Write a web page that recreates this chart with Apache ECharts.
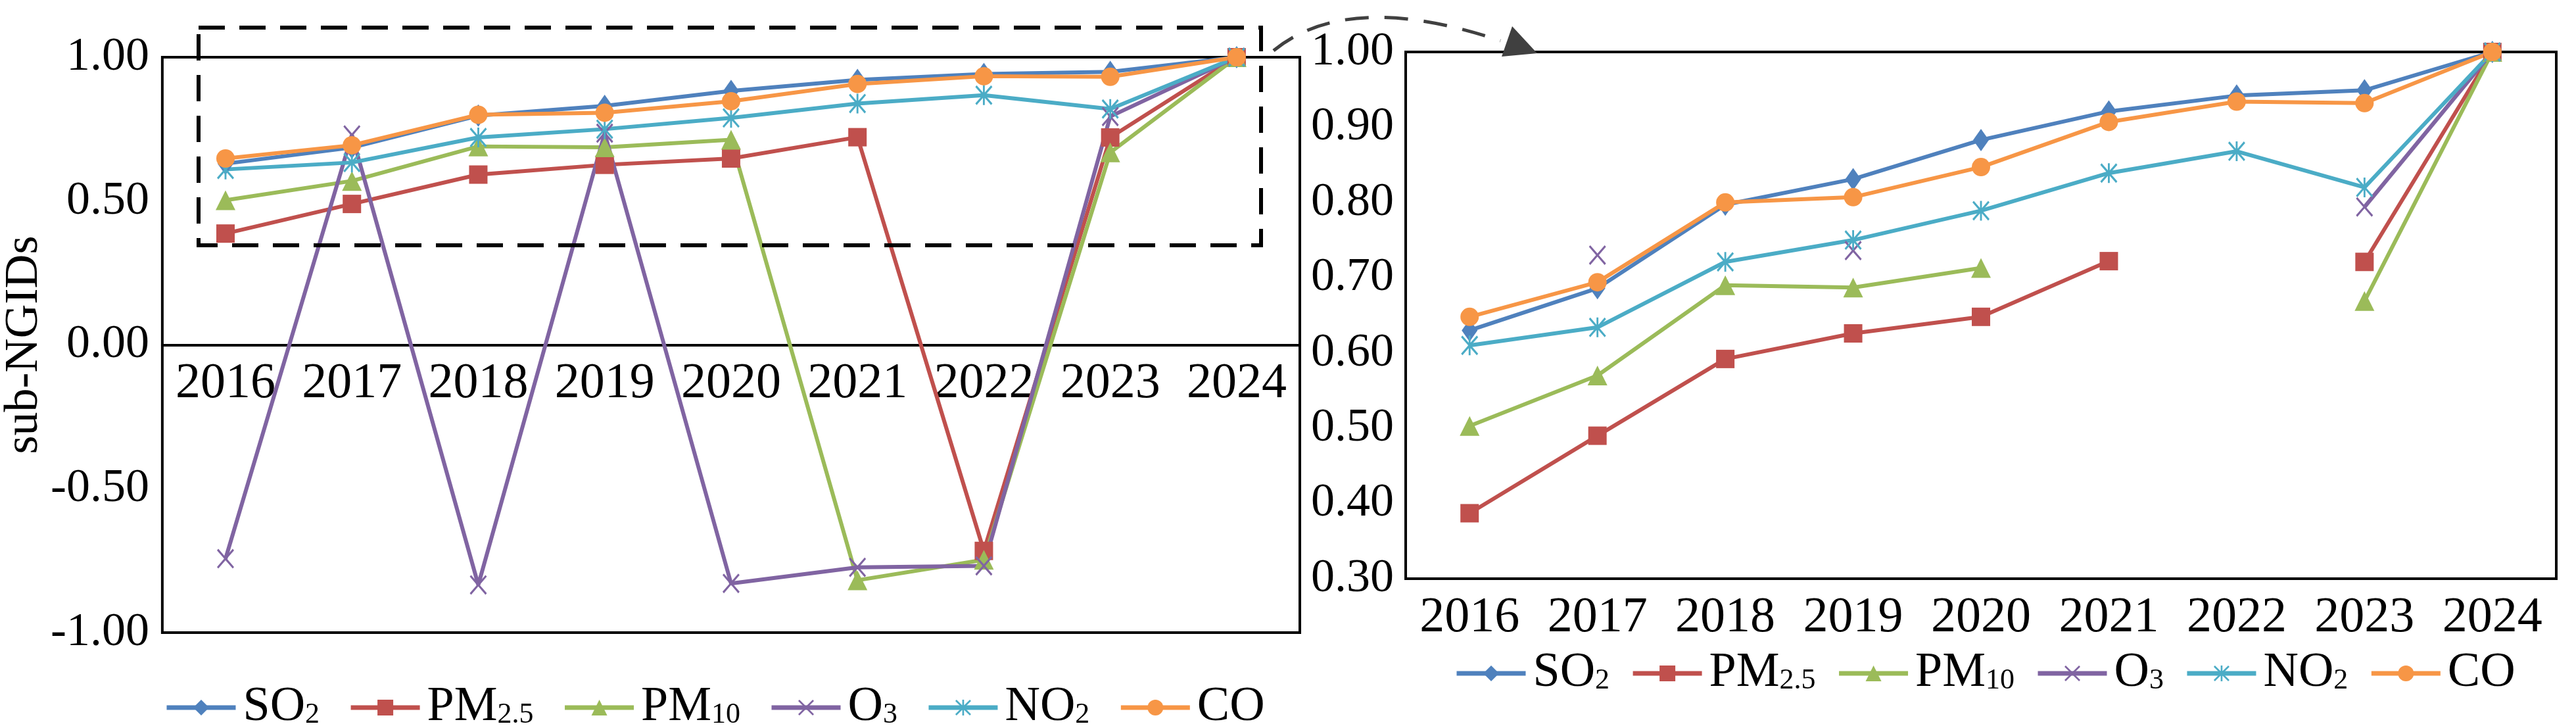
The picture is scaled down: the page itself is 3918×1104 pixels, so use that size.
<!DOCTYPE html>
<html>
<head>
<meta charset="utf-8">
<script src="https://cdn.jsdelivr.net/npm/echarts@6/dist/echarts.min.js"></script>
<style>
html, body { margin: 0; padding: 0; background: #fff; }
#chart { width: 3918px; height: 1104px; }
</style>
</head>
<body>
<div id="chart"></div>
<script>
// data
var years = ['2016', '2017', '2018', '2019', '2020', '2021', '2022', '2023', '2024'];
var so2  = [0.630, 0.686, 0.797, 0.831, 0.883, 0.921, 0.942, 0.949, 1.000];
var pm25 = [0.387, 0.490, 0.592, 0.626, 0.648, 0.722, -0.716, 0.721, 1.000];
var pm10 = [0.503, 0.570, 0.690, 0.687, 0.713, -0.818, -0.747, 0.669, 1.000];
var o3   = [-0.743, 0.730, -0.834, 0.736, -0.829, -0.773, -0.768, 0.794, 1.000];
var no2  = [0.610, 0.634, 0.721, 0.750, 0.789, 0.839, 0.868, 0.820, 1.000];
var co   = [0.648, 0.694, 0.800, 0.807, 0.847, 0.907, 0.934, 0.932, 1.000];

var leftTicks  = [-1.0, -0.5, 0.0, 0.5, 1.0];
var rightTicks = [0.3, 0.4, 0.5, 0.6, 0.7, 0.8, 0.9, 1.0];

var FONT = "'Liberation Serif', 'Times New Roman', serif";

var X_PATH = 'path://M0,0.8L0.8,0L5,4.2L9.2,0L10,0.8L5.8,5L10,9.2L9.2,10L5,5.8L0.8,10L0,9.2L4.2,5Z';
var STAR_PATH = X_PATH + 'M4.45,0L5.55,0L5.55,10L4.45,10Z';

var seriesDefs = [
    { name: 'SO2',   data: so2,  color: '#4f81bd', symbol: 'diamond',  size: [24, 34] },
    { name: 'PM2.5', data: pm25, color: '#c0504d', symbol: 'rect',     size: 28 },
    { name: 'PM10',  data: pm10, color: '#9bbb59', symbol: 'triangle', size: 30 },
    { name: 'O3',    data: o3,   color: '#8064a2', symbol: X_PATH,     size: [26, 30] },
    { name: 'NO2',   data: no2,  color: '#4bacc6', symbol: STAR_PATH,  size: [26, 30] },
    { name: 'CO',    data: co,   color: '#f79646', symbol: 'circle',   size: 28 }
];

var legendText = {
    'SO2': '{n|SO}{s|2}',
    'PM2.5': '{n|PM}{s|2.5}',
    'PM10': '{n|PM}{s|10}',
    'O3': '{n|O}{s|3}',
    'NO2': '{n|NO}{s|2}',
    'CO': '{n|CO}'
};

var series = [];
[0, 1].forEach(function (g) {
    seriesDefs.forEach(function (d) {
        var vals = g === 0 ? d.data : d.data.map(function (v) {
            return v < rightTicks[0] ? null : v;   // right panel drops points below its range
        });
        series.push({
            name: d.name,
            type: 'line',
            xAxisIndex: g,
            yAxisIndex: g,
            data: vals,
            symbol: d.symbol,
            symbolSize: d.size,
            showAllSymbol: true,
            animation: false,
            lineStyle: { color: d.color, width: 6 },
            itemStyle: { color: d.color }
        });
    });
});

function legendOpt(left, top, gap) {
    return {
        left: left,
        top: top,
        itemWidth: 105,
        itemHeight: 30,
        itemGap: gap,
        lineStyle: { width: 7 },
        data: seriesDefs.map(function (d) { return d.name; }),
        formatter: function (name) { return legendText[name]; },
        textStyle: {
            fontFamily: FONT,
            color: '#000',
            rich: {
                n: { fontFamily: FONT, fontSize: 74, color: '#000', padding: [0, 0, 0, 6] },
                s: { fontFamily: FONT, fontSize: 44, color: '#000', verticalAlign: 'bottom', padding: [0, 0, 4, 0] }
            }
        }
    };
}

function fmt(v) { return v.toFixed(2); }

var leftTop = 87, leftBottom = 962;

var option = {
    backgroundColor: '#fff',
    animation: false,
    grid: [
        { left: 242, right: 3918 - 1977, top: leftTop, bottom: 1104 - leftBottom,
          show: true, borderColor: '#000', borderWidth: 4, containLabel: false },
        { left: 2138, right: 3918 - 3888, top: 79, bottom: 1104 - 880,
          show: true, borderColor: '#000', borderWidth: 4, containLabel: false }
    ],
    xAxis: [
        // category axis drawn across the zero line of the left panel
        { type: 'category', gridIndex: 0, data: years, boundaryGap: true,
          offset: -(leftBottom - leftTop) / 2,
          axisLine: { onZero: false, lineStyle: { color: '#000', width: 4 } },
          axisTick: { show: false },
          axisLabel: { fontFamily: FONT, fontSize: 76, color: '#000', margin: 22, interval: 0 } },
        { type: 'category', gridIndex: 1, data: years, boundaryGap: true,
          axisLine: { onZero: false, lineStyle: { color: '#000', width: 4 } },
          axisTick: { show: false },
          axisLabel: { fontFamily: FONT, fontSize: 76, color: '#000', margin: 22, interval: 0 } }
    ],
    yAxis: [
        { type: 'value', gridIndex: 0,
          min: leftTicks[0], max: leftTicks[leftTicks.length - 1], interval: 0.5,
          name: 'sub-NGIDs', nameLocation: 'middle', nameGap: 168, nameRotate: 90,
          nameTextStyle: { fontFamily: FONT, fontSize: 72, color: '#000' },
          axisLine: { show: false }, axisTick: { show: false }, splitLine: { show: false },
          axisLabel: { fontFamily: FONT, fontSize: 72, color: '#000', margin: 20, formatter: fmt } },
        { type: 'value', gridIndex: 1,
          min: rightTicks[0], max: rightTicks[rightTicks.length - 1], interval: 0.1,
          axisLine: { show: false }, axisTick: { show: false }, splitLine: { show: false },
          axisLabel: { fontFamily: FONT, fontSize: 72, color: '#000', margin: 18, formatter: fmt } }
    ],
    legend: [legendOpt(245, 1034, 44), legendOpt(2207, 982, 32)],
    graphic: [
        // dashed zoom box on the left panel
        { type: 'rect', z: 100, silent: true,
          shape: { x: 302, y: 42, width: 1616, height: 331 },
          style: { fill: 'none', stroke: '#000', lineWidth: 6, lineDash: [40, 22] } },
        // dashed arrow to the right panel
        { type: 'bezierCurve', z: 100, silent: true,
          shape: { x1: 1937, y1: 77, x2: 2282, y2: 62, cpx1: 2051, cpy1: -16 },
          style: { fill: 'none', stroke: '#404040', lineWidth: 5, lineDash: [36, 24] } },
        { type: 'polygon', z: 100, silent: true,
          shape: { points: [[2300, 40], [2338, 81], [2284, 86]] },
          style: { fill: '#404040' } }
    ],
    series: series
};

var chart = echarts.init(document.getElementById('chart'));
chart.setOption(option);
</script>
</body>
</html>
